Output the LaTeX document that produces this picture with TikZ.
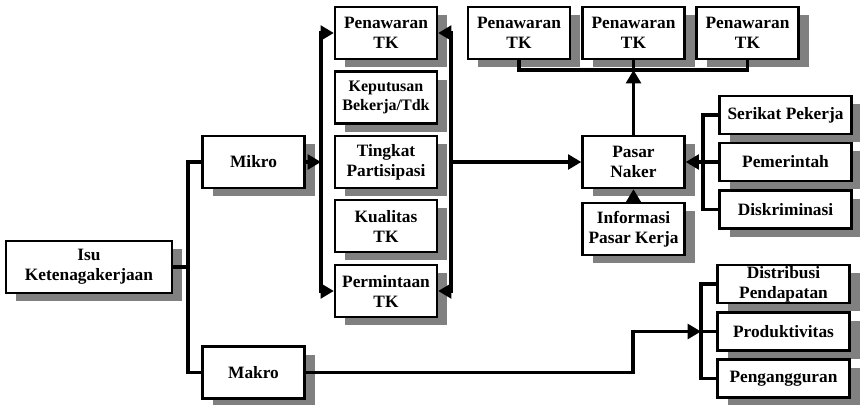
\documentclass[tikz,border=0pt]{standalone}
\usepackage{fontspec}
\setmainfont{Liberation Serif}
\usetikzlibrary{arrows.meta,shadows}

\begin{document}
\begin{tikzpicture}[x=0.75pt,y=-0.75pt,
    box/.style={draw,line width=1.7pt,fill=white,align=center,inner sep=1pt,
        font=\fontsize{13}{15}\selectfont\bfseries,
        minimum width=76.5pt,minimum height=39pt,
        drop shadow={shadow xshift=7.5pt,shadow yshift=-6pt,fill=black!50,opacity=1}},
    rbox/.style={box,minimum width=99pt,minimum height=28.5pt},
    lbl/.style={align=center,inner sep=0pt,font=\fontsize{13}{15}\selectfont\bfseries},
    conn/.style={line width=2.6pt},
    toarr/.style={-{Triangle[length=10pt,width=11pt]}},
    botharr/.style={{Triangle[length=10pt,width=11pt]}-{Triangle[length=10pt,width=11pt]}}]
        \useasboundingbox (0,0) rectangle (860,404);

        % Left side
        \node[box,minimum width=124.5pt] (isu) at (89,267) {Isu\\Ketenagakerjaan};
        \node[box] (mikro) at (253.5,162) {Mikro};
        \node[box] (makro) at (253.5,372.5) {Makro};

        % Middle column
        \node[box] (pen) at (386,33) {Penawaran\\TK};
        \node[box,font=\fontsize{12}{14}\selectfont\bfseries] (kep) at (386,97.5) {Keputusan\\Bekerja/Tdk};
        \node[box] (tingkat) at (386,162) {Tingkat\\Partisipasi};
        \node[box] (kual) at (386,226) {Kualitas\\TK};
        \node[box] (perm) at (386,291) {Permintaan\\TK};

        % Top row and market
        \node[box] (pena) at (519,33) {Penawaran\\TK};
        \node[box] (penb) at (633.5,33) {Penawaran\\TK};
        \node[box] (penc) at (747.5,33) {Penawaran\\TK};
        \node[box] (pasar) at (633.5,162) {Pasar\\Naker};
        \node[box] (info) at (633.5,229) {Informasi\\Pasar Kerja};

        % Right column
        \node[rbox] (serikat) at (785.5,115) {Serikat Pekerja};
        \node[rbox] (pemerintah) at (785.5,162) {Pemerintah};
        \node[rbox] (diskrim) at (785.5,209.5) {Diskriminasi};
        \node[rbox] (distr) at (783.5,284) {};
        \node[lbl] (distrtxt) at (distr.center) {Distribusi\\Pendapatan};
        \node[rbox] (produkt) at (783.5,331.5) {Produktivitas};
        \node[rbox] (pengang) at (783.5,378.5) {Pengangguran};

        % Join points
        \coordinate (split) at (188,267);
        \coordinate (lbar) at (321,162);
        \coordinate (rbar) at (451,162);
        \coordinate (tjoin) at (633.5,70);
        \coordinate (rjoin) at (703,162);
        \coordinate (mjoin) at (701,331.5);

        % Connectors
        \draw[conn] (isu.east) -- (split);
        \draw[conn] (mikro.west) -| (split) |- (makro.west);
        \draw[conn,toarr] (mikro.east) -- (lbar);
        \draw[conn,botharr] (pen.west) -| (lbar) |- (perm.west);
        \draw[conn,botharr] (pen.east) -| (rbar) |- (perm.east);
        \draw[conn,toarr] (rbar) -- (pasar.west);
        \draw[conn] (pena.south) |- (tjoin) -| (penc.south);
        \draw[conn] (penb.south) -- (tjoin);
        \draw[conn,toarr] (pasar.north) -- (tjoin);
        \draw[conn,toarr] (info.north) -- (pasar.south);
        \draw[conn] (serikat.west) -| (rjoin) |- (diskrim.west);
        \draw[conn] (pemerintah.west) -- (rjoin);
        \draw[conn,toarr] (rjoin) -- (pasar.east);
        \draw[conn,toarr] (makro.east) -| (633,331.5) -- (mjoin);
        \draw[conn] (distr.west) -| (mjoin) |- (pengang.west);
        \draw[conn] (produkt.west) -- (mjoin);

\end{tikzpicture}
\end{document}
